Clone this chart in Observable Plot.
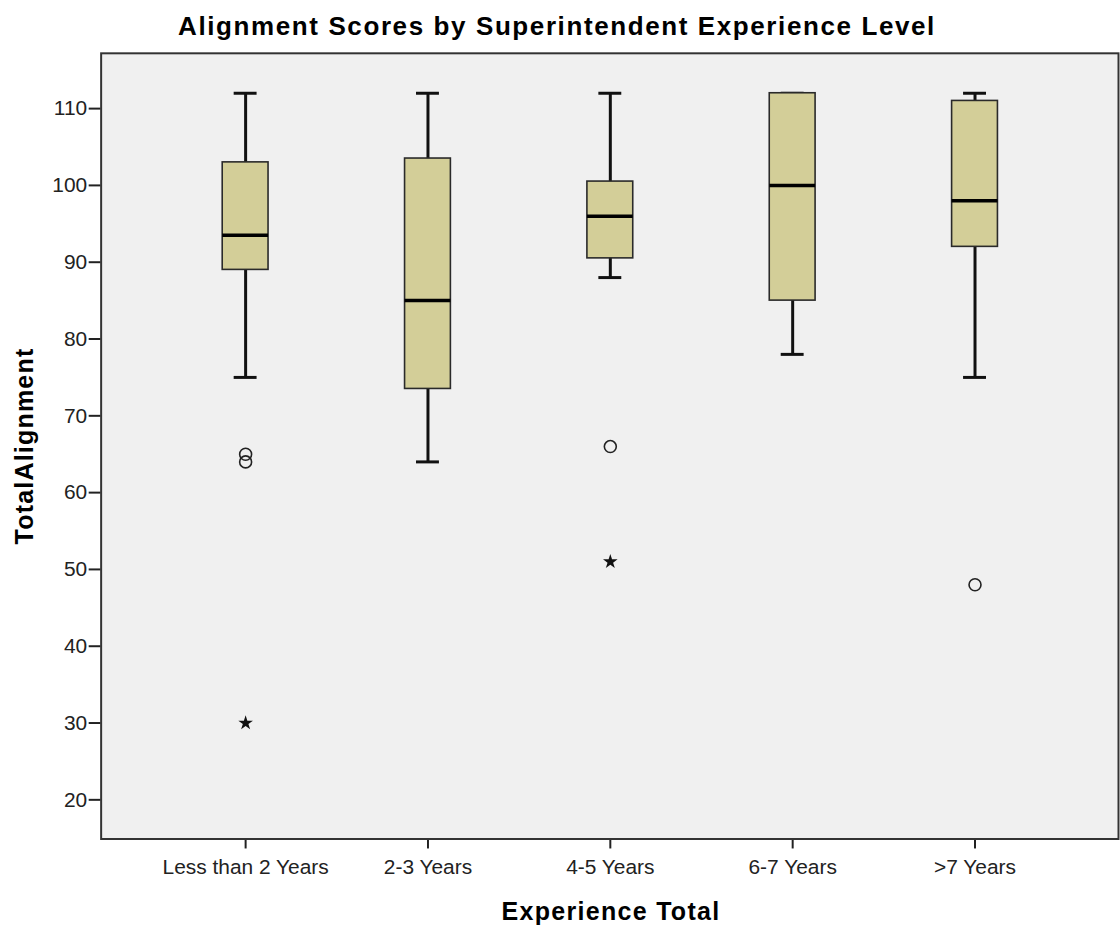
<!DOCTYPE html>
<html>
<head>
<meta charset="utf-8">
<script src="https://cdn.jsdelivr.net/npm/d3@7"></script>
<script src="https://cdn.jsdelivr.net/npm/@observablehq/plot@0.6"></script>
<style>
  html, body { margin: 0; padding: 0; background: #ffffff; overflow: hidden; }
  #wrap { position: relative; width: 1120px; height: 926px; overflow: hidden; font-family: "Liberation Sans", Arial, sans-serif; color: #000; }
  #chart { position: absolute; left: 0; top: 0; }
  .title { position: absolute; left: 0; width: 1114px; top: 13px; text-align: center; font-weight: bold; font-size: 26px; line-height: 26px; letter-spacing: 1.6px; white-space: nowrap; }
  .ylab { position: absolute; left: -126px; width: 300px; top: 431px; height: 30px; line-height: 30px; text-align: center; font-weight: bold; font-size: 25px; letter-spacing: 1.2px; transform: rotate(-90deg); white-space: nowrap; }
  .xlab { position: absolute; left: 311px; width: 600px; top: 899px; text-align: center; font-weight: bold; font-size: 25px; line-height: 25px; letter-spacing: 1.3px; white-space: nowrap; }
</style>
</head>
<body>
<div id="wrap">
  <div id="chart"></div>
  <div class="title">Alignment Scores by Superintendent Experience Level</div>
  <div class="ylab">TotalAlignment</div>
  <div class="xlab">Experience Total</div>
</div>
<script>
// ---- data ----
const categories = ["Less than 2 Years", "2-3 Years", "4-5 Years", "6-7 Years", ">7 Years"];
const whiskerLow  = [75, 64, 88, 78, 75];
const quartile1   = [89, 73.5, 90.5, 85, 92];
const medians     = [93.5, 85, 96, 100, 98];
const quartile3   = [103, 103.5, 100.5, 112, 111];
const whiskerHigh = [112, 112, 112, 112, 112];

const outlierCategory = ["Less than 2 Years", "Less than 2 Years", "4-5 Years", ">7 Years"];
const outlierValue    = [65, 64, 66, 48];
const extremeCategory = ["Less than 2 Years", "4-5 Years"];
const extremeValue    = [30, 51];

const yTicks = [20, 30, 40, 50, 60, 70, 80, 90, 100, 110];

// ---- tables built from the arrays ----
const boxes = categories.map((c, i) => ({
  cat: c, lo: whiskerLow[i], q1: quartile1[i], med: medians[i], q3: quartile3[i], hi: whiskerHigh[i]
}));
const outliers = outlierCategory.map((c, i) => ({cat: c, v: outlierValue[i]}));
const extremes = extremeCategory.map((c, i) => ({cat: c, v: extremeValue[i]}));

const ink = "#111";

const chart = Plot.plot({
  width: 1124,
  height: 926,
  marginLeft: 101,
  marginRight: 2,
  marginTop: 53,
  marginBottom: 84.5,
  style: {fontFamily: "'Liberation Sans', Arial, sans-serif", fontSize: "21px", color: "#222", background: "transparent"},
  x: {type: "band", domain: categories, paddingInner: 0.75, paddingOuter: 0.656, label: null},
  y: {domain: [14.9, 117.2], label: null},
  marks: [
    Plot.frame({fill: "#f0f0f0"}),
    Plot.axisY({ticks: yTicks, tickSize: 12, tickPadding: 2, strokeWidth: 2, label: null, fontSize: 21}),
    Plot.axisX({tickSize: 10, tickPadding: 10, strokeWidth: 2, label: null, fontSize: 21}),
    Plot.ruleX(boxes, {x: "cat", y1: "lo", y2: "hi", stroke: ink, strokeWidth: 3}),
    Plot.tickY(boxes, {x: "cat", y: "lo", stroke: ink, strokeWidth: 3, insetLeft: 11.5, insetRight: 11.5}),
    Plot.tickY(boxes, {x: "cat", y: "hi", stroke: ink, strokeWidth: 3, insetLeft: 11.5, insetRight: 11.5}),
    Plot.barY(boxes, {x: "cat", y1: "q1", y2: "q3", fill: "#d3ce98", stroke: "#2a2a2a", strokeWidth: 1.6}),
    Plot.tickY(boxes, {x: "cat", y: "med", stroke: "#000", strokeWidth: 3.5}),
    Plot.dot(outliers, {x: "cat", y: "v", r: 6, stroke: "#222", strokeWidth: 1.6, fill: "none"}),
    Plot.dot(extremes, {x: "cat", y: "v", r: 4.6, symbol: "star", fill: "#111", stroke: "none"}),
    Plot.frame({stroke: "#333", strokeWidth: 2})
  ]
});
document.getElementById("chart").appendChild(chart);
</script>
</body>
</html>
